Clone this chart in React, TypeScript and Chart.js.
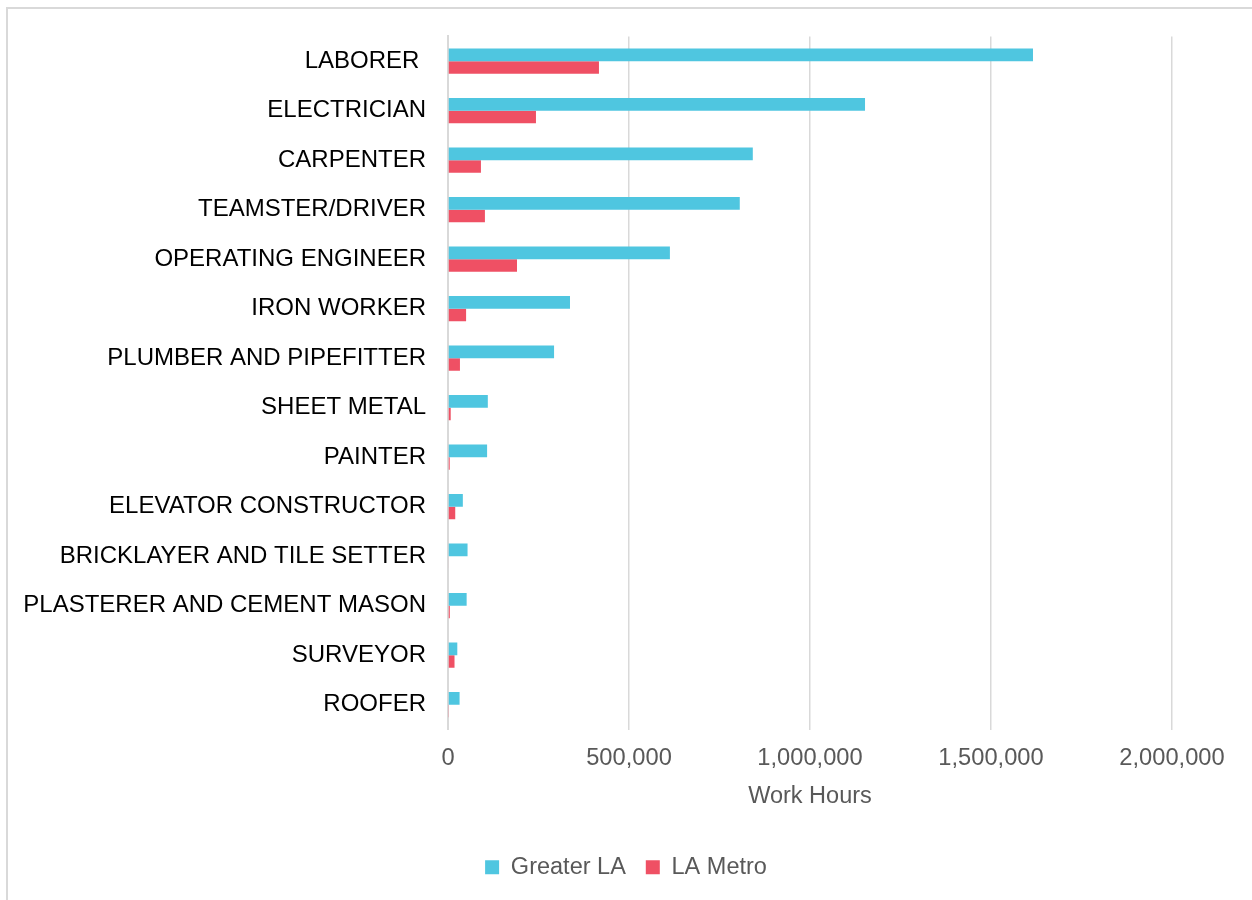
import React, { useEffect, useRef } from 'react';
import { Chart, registerables } from 'chart.js';

Chart.register(...registerables);

const categories = [
  'LABORER ',
  'ELECTRICIAN',
  'CARPENTER',
  'TEAMSTER/DRIVER',
  'OPERATING ENGINEER',
  'IRON WORKER',
  'PLUMBER AND PIPEFITTER',
  'SHEET METAL',
  'PAINTER',
  'ELEVATOR CONSTRUCTOR',
  'BRICKLAYER AND TILE SETTER',
  'PLASTERER AND CEMENT MASON',
  'SURVEYOR',
  'ROOFER',
];

const greaterLA = [1616000, 1152000, 842000, 806000, 613000, 337000, 293000, 110000, 108000, 41000, 54000, 51500, 25700, 32000];
const laMetro = [417000, 243000, 91000, 102000, 190600, 50000, 33000, 7500, 4700, 20000, 2000, 5000, 18000, 1500];

const seriesNames = ['Greater LA', 'LA Metro'];
const seriesColors = ['#4fc6e0', '#ef5064'];

const xMin = 0;
const xMax = 2000000;
const xStep = 500000;
const xTitle = 'Work Hours';

const FONT = '"Liberation Sans", Arial, sans-serif';

export default function App() {
  const canvasRef = useRef<HTMLCanvasElement | null>(null);

  useEffect(() => {
    if (!canvasRef.current) return;
    const chart = new Chart(canvasRef.current, {
      type: 'bar',
      data: {
        labels: categories,
        datasets: [
          {
            label: seriesNames[0],
            data: greaterLA,
            backgroundColor: seriesColors[0],
            borderWidth: 0,
            categoryPercentage: 0.51,
            barPercentage: 1,
          },
          {
            label: seriesNames[1],
            data: laMetro,
            backgroundColor: seriesColors[1],
            borderWidth: 0,
            categoryPercentage: 0.51,
            barPercentage: 1,
          },
        ],
      },
      options: {
        indexAxis: 'y',
        responsive: false,
        animation: false,
        layout: { padding: { top: 36, right: 0, bottom: 11, left: 0 } },
        scales: {
          x: {
            type: 'linear',
            position: 'bottom',
            min: xMin,
            max: xMax,
            ticks: {
              stepSize: xStep,
              padding: 15,
              color: '#595959',
              font: { family: FONT, size: 23.7 },
              callback: (v: any) => Number(v).toLocaleString('en-US'),
            },
            grid: { color: '#d9d9d9', lineWidth: 1.5, drawTicks: false },
            border: { display: false },
            title: {
              display: true,
              text: xTitle,
              color: '#595959',
              font: { family: FONT, size: 23.5 },
              padding: { top: 0, bottom: 25 },
            },
            afterFit: (s: any) => {
              s.height = 106;
            },
          },
          y: {
            type: 'category',
            position: 'left',
            grid: { display: false, drawTicks: false },
            border: { display: true, color: '#d9d9d9', width: 2 },
            ticks: {
              padding: 22,
              color: '#000000',
              font: { family: FONT, size: 24 },
              autoSkip: false,
            },
            afterFit: (s: any) => {
              s.width = 448;
            },
          },
          yRight: {
            type: 'category',
            position: 'right',
            display: true,
            grid: { display: false, drawTicks: false },
            border: { display: false },
            ticks: { display: false },
            afterFit: (s: any) => {
              s.width = 80;
            },
          },
        },
        plugins: {
          legend: {
            display: true,
            position: 'bottom',
            labels: {
              boxWidth: 14,
              boxHeight: 14,
              padding: 20,
              color: '#595959',
              font: { family: FONT, size: 23.5 },
            },
          },
          tooltip: { enabled: false },
          title: { display: false },
        },
      },
    } as any);
    return () => chart.destroy();
  }, []);

  return (
    <div style={{ position: 'fixed', inset: 0, overflow: 'hidden', background: '#ffffff' }}>
      <div
        style={{
          position: 'absolute',
          left: 6,
          top: 7,
          width: 1400,
          height: 1000,
          border: '2px solid #d9d9d9',
          boxSizing: 'border-box',
        }}
      />
      <div style={{ position: 'absolute', left: 0, top: 0, width: 1252, height: 900 }}>
        <canvas ref={canvasRef} width={1252} height={900} style={{ width: 1252, height: 900, display: 'block' }} />
      </div>
    </div>
  );
}
